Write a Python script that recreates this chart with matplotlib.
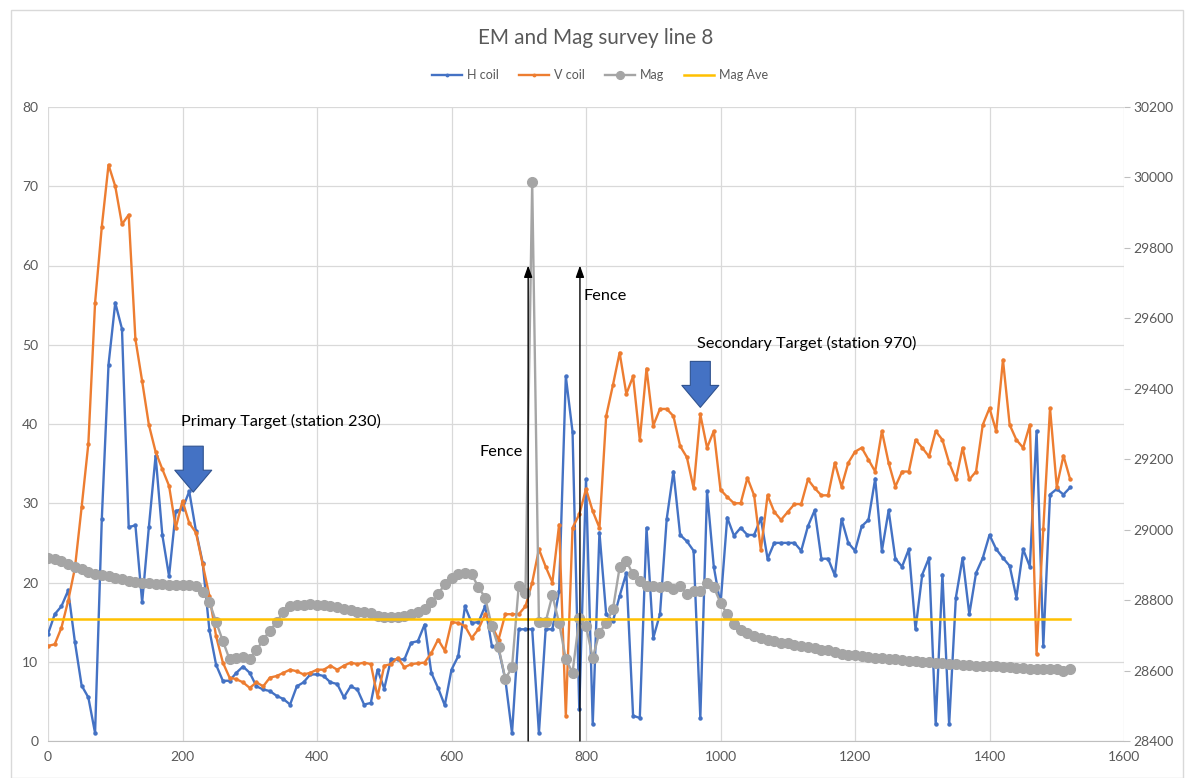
import matplotlib.pyplot as plt
from matplotlib.patches import Rectangle

plt.rcParams['font.family'] = ['Lato', 'DejaVu Sans']

# Survey stations (every 10 m along line 8)
stations = list(range(0, 1530, 10))

# EM readings (left axis)
h_coil = [13.5, 16, 17, 19, 12.5, 7, 5.5, 1, 28, 47.5,
          55.3, 52, 27, 27.2, 17.5, 27, 36, 26, 20.8, 29,
          29.3, 31.5, 26.5, 22.5, 14, 9.6, 7.6, 7.6, 8.6, 9.4,
          8.6, 6.9, 6.5, 6.3, 5.7, 5.3, 4.6, 6.9, 7.4, 8.4,
          8.4, 8.2, 7.4, 7.2, 5.5, 6.9, 6.5, 4.6, 4.8, 9,
          6.6, 10.3, 10.3, 10.3, 12.4, 12.6, 14.7, 8.6, 6.7, 4.5,
          9, 10.7, 17, 14.9, 15, 17, 12, 11.6, 7.8, 1,
          14.1, 14.1, 14.1, 1, 14.1, 14.1, 18.9, 46, 39, 4,
          33, 2.1, 26.3, 16, 15.1, 18.3, 21.2, 3.2, 2.9, 26.9,
          13, 16, 28, 34, 26, 25.2, 24, 2.9, 31.5, 22,
          17.2, 28.2, 25.9, 26.9, 26, 26, 28.1, 23, 25, 25,
          25, 25, 24, 27.1, 29.1, 23, 23, 20.9, 28, 25,
          24, 27.1, 27.9, 33.1, 24, 29.1, 23, 22, 24.2, 14.1,
          21, 23.1, 2.1, 21, 2.1, 18.1, 23.1, 16, 21.2, 23.1,
          26, 24.2, 23.1, 22.1, 18.1, 24.2, 22, 39.1, 12, 31.1,
          31.8, 31.1, 32]

v_coil = [12, 12.2, 14.3, 17.7, 21.8, 29.5, 37.5, 55.3, 64.9, 72.7,
          70, 65.2, 66.4, 50.7, 45.4, 39.9, 36.5, 34.3, 32.2, 26.9,
          30.3, 27.5, 26.3, 22.3, 18.3, 13.2, 9.9, 8, 7.8, 7.4,
          6.7, 7.4, 6.9, 8, 8.2, 8.6, 9, 8.8, 8.4, 8.6,
          9, 9, 9.5, 9, 9.5, 9.9, 9.7, 9.9, 9.7, 5.6,
          9.5, 9.7, 10.5, 9.3, 9.7, 9.8, 9.9, 11.1, 12.8, 11.4,
          15, 14.9, 14.5, 13, 14.1, 16, 14.5, 12.8, 16, 16,
          16, 17, 20, 24.2, 22, 20, 27.3, 3.2, 26.9, 28.6,
          31.8, 29, 26.9, 41, 44.9, 49, 43.8, 46, 38, 47,
          39.8, 41.9, 41.9, 41, 37.2, 35.8, 31.9, 41.2, 37, 39.1,
          31.7, 30.8, 30, 30, 33.2, 31, 24.1, 31, 28.9, 27.9,
          28.9, 29.9, 29.9, 33, 31.9, 31, 31, 35.1, 32.1, 35.1,
          36.5, 37, 35.5, 34, 39.1, 35.1, 32.1, 34, 34, 38,
          37, 35.9, 39.1, 38, 35.1, 33, 37, 33, 34, 39.9,
          42, 39.1, 48.1, 39.9, 38, 37, 39.9, 11, 26.8, 42,
          32.1, 36, 33]

# Magnetometer readings, nT (right axis)
mag = [28920, 28918, 28911, 28902, 28895, 28888, 28879, 28873, 28870, 28868,
       28864, 28859, 28855, 28852, 28848, 28848, 28846, 28846, 28843, 28843,
       28843, 28843, 28839, 28823, 28794, 28738, 28684, 28632, 28636, 28639,
       28634, 28657, 28688, 28713, 28738, 28767, 28783, 28787, 28787, 28789,
       28787, 28785, 28783, 28780, 28776, 28771, 28767, 28765, 28762, 28756,
       28751, 28751, 28751, 28756, 28760, 28767, 28774, 28794, 28816, 28846,
       28864, 28873, 28877, 28873, 28837, 28807, 28726, 28666, 28576, 28609,
       28841, 28821, 29986, 28738, 28738, 28814, 28735, 28632, 28594, 28749,
       28726, 28636, 28708, 28735, 28774, 28893, 28911, 28873, 28855, 28841,
       28841, 28837, 28841, 28832, 28841, 28816, 28825, 28825, 28848, 28837,
       28792, 28760, 28731, 28715, 28706, 28699, 28693, 28688, 28684, 28679,
       28677, 28672, 28670, 28668, 28663, 28659, 28657, 28652, 28648, 28645,
       28643, 28641, 28639, 28636, 28636, 28634, 28632, 28630, 28627, 28627,
       28625, 28623, 28621, 28621, 28618, 28618, 28616, 28616, 28614, 28614,
       28612, 28612, 28609, 28609, 28607, 28607, 28605, 28605, 28605, 28603,
       28603, 28600, 28603]
mag_ave = 28745

# Annotations (station, left-axis value)
fence_x = [714, 791]
fence_top = 60
primary_arrow = (216, 37.2, 31.4)
secondary_arrow = (970, 47.9, 42.1)

blue = '#4472C4'
orange = '#ED7D31'
grey = '#A5A5A5'
yellow = '#FFC000'
txt = '#595959'

fig = plt.figure(figsize=(11.92, 7.78), dpi=100)
ax = fig.add_axes([48 / 1192, 37 / 778, 1076 / 1192, 634 / 778])
ax2 = ax.twinx()

l1, = ax.plot(stations, h_coil, color=blue, lw=1.7, marker='o', ms=2.2, label='H coil')
l2, = ax.plot(stations, v_coil, color=orange, lw=1.7, marker='o', ms=2.2, label='V coil')
l3, = ax2.plot(stations, mag, color=grey, lw=1.7, marker='o', ms=7, label='Mag')
l4, = ax2.plot(stations, [mag_ave] * len(stations), color=yellow, lw=1.8, label='Mag Ave')

ax.set_xlim(0, 1600)
ax.set_ylim(0, 80)
ax2.set_ylim(28400, 30200)
ax.set_xticks(range(0, 1601, 200))
ax.set_yticks(range(0, 81, 10))
ax2.set_yticks(range(28400, 30201, 200))

ax.grid(color='#D9D9D9', lw=0.9)
ax.set_axisbelow(True)
for a in (ax, ax2):
    for s in ('top', 'left', 'right'):
        a.spines[s].set_visible(False)
ax.spines['bottom'].set_color('#BFBFBF')
ax2.spines['bottom'].set_visible(False)
ax.tick_params(axis='both', length=0, labelsize=10, labelcolor=txt, pad=7)
ax2.tick_params(axis='y', length=4, color='#BFBFBF', labelsize=10, labelcolor=txt, pad=3)

# Fence arrows and labels
for fx in fence_x:
    ax2.annotate('', xy=(fx, fence_top), xytext=(fx, 0),
                 xycoords=ax.transData, textcoords=ax.transData,
                 arrowprops=dict(arrowstyle='-|>,head_length=0.7,head_width=0.25',
                                 color='black', lw=1, shrinkA=0, shrinkB=0))
ax2.text(642, 36.5, 'Fence', transform=ax.transData, fontsize=11.7, va='center')
ax2.text(796, 56.2, 'Fence', transform=ax.transData, fontsize=11.7, va='center')

# Target arrows and labels
for sx, y0, y1 in (primary_arrow, secondary_arrow):
    ax2.annotate('', xy=(sx, y1), xytext=(sx, y0),
                 xycoords=ax.transData, textcoords=ax.transData,
                 arrowprops=dict(arrowstyle='simple,head_length=0.79,head_width=1.33,tail_width=0.72',
                                 mutation_scale=20, fc=blue, ec='#2F528F', lw=0.8,
                                 shrinkA=0, shrinkB=0))
ax2.text(198, 40.3, 'Primary Target (station 230)', transform=ax.transData,
         fontsize=11.7, va='center')
ax2.text(965, 50.2, 'Secondary Target (station 970)', transform=ax.transData,
         fontsize=11.7, va='center')

fig.text(0.5, 1 - 38 / 778, 'EM and Mag survey line 8', ha='center', va='center',
         fontsize=14.9, color=txt)
fig.legend([l1, l2, l3, l4], ['H coil', 'V coil', 'Mag', 'Mag Ave'], loc='center',
           bbox_to_anchor=(600 / 1192, 1 - 75 / 778), ncol=4, frameon=False,
           fontsize=9, labelcolor=txt, handlelength=2.4, columnspacing=1.6,
           handletextpad=0.4, markerscale=0.8)

fig.add_artist(Rectangle((11 / 1192, 0), 1172 / 1192, 768 / 778, transform=fig.transFigure,
                         fill=False, ec='#D9D9D9', lw=1))

fig.savefig('out.png', dpi=100)
